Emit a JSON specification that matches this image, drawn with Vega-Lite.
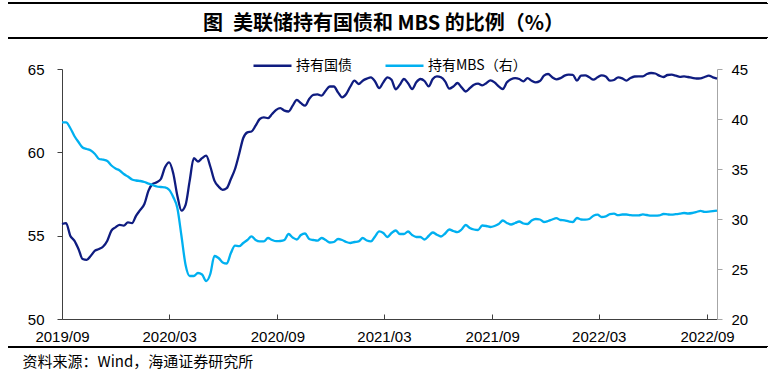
{
  "$schema": "https://vega.github.io/schema/vega-lite/v6.json",
  "width": 655,
  "height": 250,
  "autosize": {"type": "none"},
  "padding": {"left": 62, "top": 69, "right": 58, "bottom": 55},
  "background": "white",
  "title": {"text": "图\u2002美联储持有国债和 MBS 的比例（%）", "font": "Noto Sans CJK SC", "fontSize": 20, "fontWeight": "bold", "color": "#000000", "anchor": "middle", "frame": "group", "offset": -31, "dx": -6},
  "config": {
    "view": {"stroke": null},
    "axis": {"grid": false, "labelFont": "Liberation Sans", "labelFontSize": 15, "labelColor": "#000000"}
  },
  "data": {"values": [
    {"date":"2019-09-04","tsy":55.7,"mbs":39.66},
    {"date":"2019-09-11","tsy":55.75,"mbs":39.66},
    {"date":"2019-09-18","tsy":55.0,"mbs":39.1},
    {"date":"2019-09-25","tsy":54.7,"mbs":38.3},
    {"date":"2019-10-02","tsy":54.2,"mbs":37.7},
    {"date":"2019-10-09","tsy":53.6,"mbs":37.15},
    {"date":"2019-10-16","tsy":53.55,"mbs":37.0},
    {"date":"2019-10-23","tsy":53.8,"mbs":36.85},
    {"date":"2019-10-30","tsy":54.1,"mbs":36.5},
    {"date":"2019-11-06","tsy":54.2,"mbs":36.0},
    {"date":"2019-11-13","tsy":54.35,"mbs":35.93},
    {"date":"2019-11-20","tsy":54.7,"mbs":35.8},
    {"date":"2019-11-27","tsy":55.3,"mbs":35.35},
    {"date":"2019-12-04","tsy":55.5,"mbs":35.05},
    {"date":"2019-12-11","tsy":55.65,"mbs":34.85},
    {"date":"2019-12-18","tsy":55.6,"mbs":34.5},
    {"date":"2019-12-25","tsy":55.8,"mbs":34.25},
    {"date":"2020-01-01","tsy":55.75,"mbs":33.95},
    {"date":"2020-01-08","tsy":56.2,"mbs":33.85},
    {"date":"2020-01-15","tsy":56.55,"mbs":33.8},
    {"date":"2020-01-22","tsy":56.9,"mbs":33.7},
    {"date":"2020-01-29","tsy":57.7,"mbs":33.53},
    {"date":"2020-02-05","tsy":58.1,"mbs":33.4},
    {"date":"2020-02-12","tsy":58.2,"mbs":33.25},
    {"date":"2020-02-19","tsy":58.4,"mbs":33.2},
    {"date":"2020-02-26","tsy":59.1,"mbs":33.16},
    {"date":"2020-03-04","tsy":59.4,"mbs":32.93},
    {"date":"2020-03-11","tsy":58.75,"mbs":32.2},
    {"date":"2020-03-18","tsy":57.4,"mbs":31.1},
    {"date":"2020-03-25","tsy":56.5,"mbs":28.3},
    {"date":"2020-04-01","tsy":56.85,"mbs":25.4},
    {"date":"2020-04-08","tsy":58.3,"mbs":24.3},
    {"date":"2020-04-15","tsy":59.65,"mbs":24.3},
    {"date":"2020-04-22","tsy":59.45,"mbs":24.6},
    {"date":"2020-04-29","tsy":59.65,"mbs":24.45},
    {"date":"2020-05-06","tsy":59.8,"mbs":23.8},
    {"date":"2020-05-13","tsy":59.15,"mbs":24.5},
    {"date":"2020-05-20","tsy":58.3,"mbs":26.3},
    {"date":"2020-05-27","tsy":57.95,"mbs":26.1},
    {"date":"2020-06-03","tsy":57.75,"mbs":25.66},
    {"date":"2020-06-10","tsy":57.85,"mbs":25.55},
    {"date":"2020-06-17","tsy":58.4,"mbs":26.6},
    {"date":"2020-06-24","tsy":59.0,"mbs":27.33},
    {"date":"2020-07-01","tsy":59.9,"mbs":27.28},
    {"date":"2020-07-08","tsy":60.86,"mbs":27.6},
    {"date":"2020-07-15","tsy":61.2,"mbs":27.9},
    {"date":"2020-07-22","tsy":61.25,"mbs":28.26},
    {"date":"2020-07-29","tsy":61.6,"mbs":27.9},
    {"date":"2020-08-05","tsy":62.0,"mbs":27.76},
    {"date":"2020-08-12","tsy":62.1,"mbs":27.76},
    {"date":"2020-08-19","tsy":62.05,"mbs":28.1},
    {"date":"2020-08-26","tsy":62.3,"mbs":27.9},
    {"date":"2020-09-02","tsy":62.55,"mbs":27.78},
    {"date":"2020-09-09","tsy":62.65,"mbs":27.8},
    {"date":"2020-09-16","tsy":62.5,"mbs":27.9},
    {"date":"2020-09-23","tsy":62.45,"mbs":28.5},
    {"date":"2020-09-30","tsy":62.8,"mbs":28.15},
    {"date":"2020-10-07","tsy":63.15,"mbs":27.95},
    {"date":"2020-10-14","tsy":62.95,"mbs":28.4},
    {"date":"2020-10-21","tsy":62.8,"mbs":28.55},
    {"date":"2020-10-28","tsy":63.2,"mbs":28.0},
    {"date":"2020-11-04","tsy":63.45,"mbs":27.9},
    {"date":"2020-11-11","tsy":63.48,"mbs":27.83},
    {"date":"2020-11-18","tsy":63.4,"mbs":28.1},
    {"date":"2020-11-25","tsy":63.7,"mbs":27.9},
    {"date":"2020-12-02","tsy":63.95,"mbs":27.65},
    {"date":"2020-12-09","tsy":63.95,"mbs":27.7},
    {"date":"2020-12-16","tsy":63.6,"mbs":28.0},
    {"date":"2020-12-23","tsy":63.3,"mbs":27.9},
    {"date":"2020-12-30","tsy":63.5,"mbs":27.7},
    {"date":"2021-01-06","tsy":63.95,"mbs":27.6},
    {"date":"2021-01-13","tsy":64.3,"mbs":27.7},
    {"date":"2021-01-20","tsy":64.1,"mbs":27.76},
    {"date":"2021-01-27","tsy":64.3,"mbs":28.1},
    {"date":"2021-02-03","tsy":64.42,"mbs":27.85},
    {"date":"2021-02-10","tsy":64.5,"mbs":27.76},
    {"date":"2021-02-17","tsy":64.25,"mbs":28.26},
    {"date":"2021-02-24","tsy":63.85,"mbs":28.76},
    {"date":"2021-03-03","tsy":64.2,"mbs":28.6},
    {"date":"2021-03-10","tsy":64.5,"mbs":28.2},
    {"date":"2021-03-17","tsy":64.35,"mbs":28.6},
    {"date":"2021-03-24","tsy":63.78,"mbs":28.85},
    {"date":"2021-03-31","tsy":64.05,"mbs":28.5},
    {"date":"2021-04-07","tsy":64.4,"mbs":28.5},
    {"date":"2021-04-14","tsy":64.15,"mbs":28.75},
    {"date":"2021-04-21","tsy":63.8,"mbs":28.4},
    {"date":"2021-04-28","tsy":64.2,"mbs":28.2},
    {"date":"2021-05-05","tsy":64.4,"mbs":28.2},
    {"date":"2021-05-12","tsy":64.28,"mbs":27.95},
    {"date":"2021-05-19","tsy":63.96,"mbs":28.3},
    {"date":"2021-05-26","tsy":64.4,"mbs":28.65},
    {"date":"2021-06-02","tsy":64.56,"mbs":28.43},
    {"date":"2021-06-09","tsy":64.5,"mbs":28.25},
    {"date":"2021-06-16","tsy":64.26,"mbs":28.55},
    {"date":"2021-06-23","tsy":63.82,"mbs":28.95},
    {"date":"2021-06-30","tsy":63.95,"mbs":28.8},
    {"date":"2021-07-07","tsy":64.16,"mbs":28.68},
    {"date":"2021-07-14","tsy":63.9,"mbs":28.95},
    {"date":"2021-07-21","tsy":63.65,"mbs":29.4},
    {"date":"2021-07-28","tsy":63.85,"mbs":29.1},
    {"date":"2021-08-04","tsy":64.06,"mbs":28.95},
    {"date":"2021-08-11","tsy":64.12,"mbs":28.9},
    {"date":"2021-08-18","tsy":64.02,"mbs":29.35},
    {"date":"2021-08-25","tsy":64.15,"mbs":29.3},
    {"date":"2021-09-01","tsy":64.32,"mbs":29.2},
    {"date":"2021-09-08","tsy":64.2,"mbs":29.3},
    {"date":"2021-09-15","tsy":63.96,"mbs":29.5},
    {"date":"2021-09-22","tsy":63.8,"mbs":29.85},
    {"date":"2021-09-29","tsy":64.2,"mbs":29.6},
    {"date":"2021-10-06","tsy":64.38,"mbs":29.45},
    {"date":"2021-10-13","tsy":64.45,"mbs":29.6},
    {"date":"2021-10-20","tsy":64.4,"mbs":29.75},
    {"date":"2021-10-27","tsy":64.26,"mbs":29.55},
    {"date":"2021-11-03","tsy":64.45,"mbs":29.5},
    {"date":"2021-11-10","tsy":64.3,"mbs":29.85},
    {"date":"2021-11-17","tsy":64.2,"mbs":30.0},
    {"date":"2021-11-24","tsy":64.28,"mbs":29.95},
    {"date":"2021-12-01","tsy":64.6,"mbs":29.7},
    {"date":"2021-12-08","tsy":64.7,"mbs":29.8},
    {"date":"2021-12-15","tsy":64.5,"mbs":29.95},
    {"date":"2021-12-22","tsy":64.38,"mbs":30.08},
    {"date":"2021-12-29","tsy":64.45,"mbs":29.9},
    {"date":"2022-01-05","tsy":64.6,"mbs":29.86},
    {"date":"2022-01-12","tsy":64.66,"mbs":29.76},
    {"date":"2022-01-19","tsy":64.65,"mbs":29.7},
    {"date":"2022-01-26","tsy":64.3,"mbs":30.1},
    {"date":"2022-02-02","tsy":64.6,"mbs":29.95},
    {"date":"2022-02-09","tsy":64.62,"mbs":29.93},
    {"date":"2022-02-16","tsy":64.5,"mbs":30.0},
    {"date":"2022-02-23","tsy":64.36,"mbs":30.33},
    {"date":"2022-03-02","tsy":64.5,"mbs":30.43},
    {"date":"2022-03-09","tsy":64.62,"mbs":30.2},
    {"date":"2022-03-16","tsy":64.55,"mbs":30.26},
    {"date":"2022-03-23","tsy":64.3,"mbs":30.48},
    {"date":"2022-03-30","tsy":64.34,"mbs":30.53},
    {"date":"2022-04-06","tsy":64.5,"mbs":30.38},
    {"date":"2022-04-13","tsy":64.44,"mbs":30.45},
    {"date":"2022-04-20","tsy":64.3,"mbs":30.45},
    {"date":"2022-04-27","tsy":64.46,"mbs":30.38},
    {"date":"2022-05-04","tsy":64.55,"mbs":30.36},
    {"date":"2022-05-11","tsy":64.56,"mbs":30.36},
    {"date":"2022-05-18","tsy":64.56,"mbs":30.46},
    {"date":"2022-05-25","tsy":64.7,"mbs":30.4},
    {"date":"2022-06-01","tsy":64.76,"mbs":30.33},
    {"date":"2022-06-08","tsy":64.73,"mbs":30.33},
    {"date":"2022-06-15","tsy":64.6,"mbs":30.36},
    {"date":"2022-06-22","tsy":64.52,"mbs":30.5},
    {"date":"2022-06-29","tsy":64.64,"mbs":30.46},
    {"date":"2022-07-06","tsy":64.66,"mbs":30.43},
    {"date":"2022-07-13","tsy":64.6,"mbs":30.48},
    {"date":"2022-07-20","tsy":64.53,"mbs":30.53},
    {"date":"2022-07-27","tsy":64.56,"mbs":30.6},
    {"date":"2022-08-03","tsy":64.52,"mbs":30.55},
    {"date":"2022-08-10","tsy":64.47,"mbs":30.6},
    {"date":"2022-08-17","tsy":64.43,"mbs":30.7},
    {"date":"2022-08-24","tsy":64.44,"mbs":30.82},
    {"date":"2022-08-31","tsy":64.52,"mbs":30.72},
    {"date":"2022-09-07","tsy":64.6,"mbs":30.74},
    {"date":"2022-09-14","tsy":64.5,"mbs":30.78},
    {"date":"2022-09-21","tsy":64.42,"mbs":30.83}
  ]},
  "layer": [
    {
      "mark": {"type": "line", "interpolate": "monotone", "strokeWidth": 2.3},
      "encoding": {
        "x": {
          "field": "date", "type": "temporal",
          "scale": {"type": "utc", "domain": [{"year": 2019, "month": 9, "date": 4, "utc": true}, {"year": 2022, "month": 9, "date": 21, "utc": true}]},
          "axis": {
            "orient": "bottom",
            "values": [
              {"year": 2019, "month": 9, "date": 4, "utc": true},
              {"year": 2020, "month": 3, "date": 4, "utc": true},
              {"year": 2020, "month": 9, "date": 4, "utc": true},
              {"year": 2021, "month": 3, "date": 4, "utc": true},
              {"year": 2021, "month": 9, "date": 4, "utc": true},
              {"year": 2022, "month": 3, "date": 4, "utc": true},
              {"year": 2022, "month": 9, "date": 4, "utc": true}
            ],
            "format": "%Y/%m",
            "labelFlush": false,
            "labelOverlap": false,
            "tickSize": -5,
            "tickColor": "#404040",
            "domainColor": "#404040",
            "labelPadding": 15,
            "title": "资料来源：Wind，海通证券研究所",
            "titleFont": "Noto Sans CJK SC",
            "titleFontSize": 15,
            "titleFontWeight": "normal",
            "titleColor": "#000000",
            "titleAnchor": "start",
            "titleAlign": "left",
            "titleBaseline": "middle",
            "titleX": -40,
            "titleY": 42
          }
        },
        "y": {
          "field": "tsy", "type": "quantitative",
          "scale": {"domain": [50, 65], "nice": false, "zero": false},
          "axis": {"orient": "left", "values": [50, 55, 60, 65], "tickSize": 5, "labelPadding": 13, "domainColor": "#404040", "tickColor": "#404040", "title": null}
        },
        "color": {
          "datum": "持有国债", "type": "nominal",
          "scale": {"domain": ["持有国债", "持有MBS（右）"], "range": ["#0F1C80", "#00B0F0"]},
          "legend": {"orient": "none", "legendX": 190, "legendY": -24, "direction": "horizontal", "title": null, "symbolType": "stroke", "symbolSize": 1444, "symbolStrokeWidth": 2.3, "labelFont": "Noto Sans CJK SC", "labelFontSize": 14, "labelColor": "#000000", "labelOffset": 3, "columnPadding": 28, "padding": 0}
        }
      }
    },
    {
      "mark": {"type": "line", "interpolate": "monotone", "strokeWidth": 2.3},
      "encoding": {
        "x": {"field": "date", "type": "temporal"},
        "y": {
          "field": "mbs", "type": "quantitative",
          "scale": {"domain": [20, 45], "nice": false, "zero": false},
          "axis": {"orient": "right", "values": [20, 25, 30, 35, 40, 45], "tickSize": 5, "labelPadding": 9, "domainColor": "#A6A6A6", "tickColor": "#A6A6A6", "title": null}
        },
        "color": {"datum": "持有MBS（右）", "type": "nominal"}
      }
    },
    {
      "mark": {"type": "rule", "color": "#000000", "strokeWidth": 1.3},
      "encoding": {
        "x": {"datum": {"year": 2019, "month": 6, "date": 5, "utc": true}, "type": "temporal"},
        "x2": {"datum": {"year": 2022, "month": 12, "date": 15, "utc": true}},
        "y": {"datum": 68.94, "type": "quantitative", "scale": {"domain": [50, 65], "nice": false, "zero": false}, "axis": null}
      }
    },
    {
      "mark": {"type": "rule", "color": "#000000", "strokeWidth": 1.3},
      "encoding": {
        "x": {"datum": {"year": 2019, "month": 6, "date": 5, "utc": true}, "type": "temporal"},
        "x2": {"datum": {"year": 2022, "month": 12, "date": 15, "utc": true}},
        "y": {"datum": 66.88, "type": "quantitative", "scale": {"domain": [50, 65], "nice": false, "zero": false}, "axis": null}
      }
    },
    {
      "mark": {"type": "rule", "color": "#000000", "strokeWidth": 1.3},
      "encoding": {
        "x": {"datum": {"year": 2019, "month": 6, "date": 5, "utc": true}, "type": "temporal"},
        "x2": {"datum": {"year": 2022, "month": 12, "date": 15, "utc": true}},
        "y": {"datum": 48.34, "type": "quantitative", "scale": {"domain": [50, 65], "nice": false, "zero": false}, "axis": null}
      }
    }
  ],
  "resolve": {"scale": {"y": "independent"}}
}
